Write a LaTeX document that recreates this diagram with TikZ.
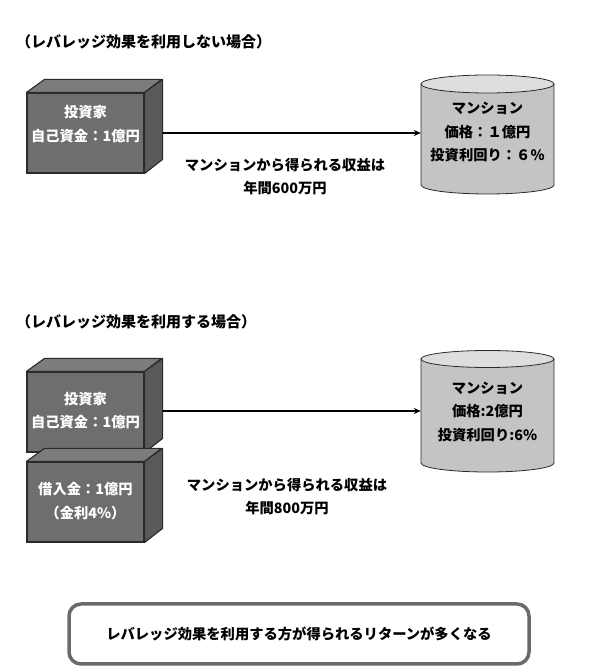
\documentclass[tikz,border=0pt]{standalone}
\usepackage{fontspec}
\usetikzlibrary{arrows.meta}
\setmainfont{Noto Sans CJK JP}
\begin{document}
\begin{tikzpicture}[x=1pt,y=1pt,
  txt/.style={font=\bfseries\fontsize{14.3}{23.5}\selectfont, align=center, inner sep=0pt},
  ttl/.style={font=\bfseries\fontsize{15}{18}\selectfont, inner sep=0pt, anchor=west},
  wtxt/.style={txt, text=white},
  front/.style={fill=frontgray, draw=edgegray, line width=1.1pt, minimum width=117pt, minimum height=80pt, inner sep=0pt},
  face/.style={draw=edgegray, line width=1.1pt, line join=round},
  cylbody/.style={fill=cylgray, draw=edgegray, line width=0.8pt},
  cyltop/.style={fill=cyltopgray, draw=edgegray, line width=0.8pt},
  arr/.style={-{Stealth[length=7pt,width=6pt]}, line width=1.3pt},
  endbox/.style={draw=boxgray, line width=3.5pt, rounded corners=12pt, minimum width=460pt, minimum height=60pt, fill=white}
]
\definecolor{frontgray}{HTML}{6E6E6E}
\definecolor{topgray}{HTML}{7C7C7C}
\definecolor{sidegray}{HTML}{5A5A5A}
\definecolor{edgegray}{HTML}{2A2A2A}
\definecolor{cylgray}{HTML}{C4C4C4}
\definecolor{cyltopgray}{HTML}{DEDEDE}
\definecolor{boxgray}{HTML}{6A6A6A}
\useasboundingbox (0,0) rectangle (600,672);

% ---------- titles
\node[ttl] (t1) at (16,630) {（レバレッジ効果を利用しない場合）};
\node[ttl] (t2) at (16,350) {（レバレッジ効果を利用する場合）};

% ---------- cube 1
\node[front] (box1) at (85.5,539) {};
\fill[topgray, face] (box1.north west) -- ++(18,13) -- ++(117,0) -- (box1.north east) -- cycle;
\fill[sidegray, face] (box1.north east) -- ++(18,13) -- ++(0,-80) -- (box1.south east) -- cycle;
\node[wtxt] (box1t) at (85.5,548) {投資家\\自己資金：1億円};
\coordinate (b1r) at ([xshift=18pt]box1.east);

% ---------- cylinder 1
\path[cylbody] (421,588) -- (421,487) arc[start angle=180, end angle=360, x radius=66.5, y radius=9] -- (554,588) -- cycle;
\path[cyltop] (487.5,588) ellipse[x radius=66.5, y radius=9];
\node[txt, minimum width=133pt] (cyl1) at (487.5,540) {マンション\\価格：１億円\\投資利回り：６\%};

\draw[arr] (b1r) -- (b1r -| cyl1.west);
\node[txt] (m1) at (285,495.5) {マンションから得られる収益は\\年間600万円};

% ---------- cube 2a
\node[front] (box2) at (85.5,260) {};
\fill[topgray, face] (box2.north west) -- ++(18,13) -- ++(117,0) -- (box2.north east) -- cycle;
\fill[sidegray, face] (box2.north east) -- ++(18,13) -- ++(0,-80) -- (box2.south east) -- cycle;
\node[wtxt] (box2t) at (85.5,261.5) {投資家\\自己資金：1億円};
\coordinate (b2r) at ([xshift=18pt]box2.east);

% ---------- cube 2b
\node[front] (box3) at (85.5,170) {};
\fill[topgray, face] (box3.north west) -- ++(18,13) -- ++(117,0) -- (box3.north east) -- cycle;
\fill[sidegray, face] (box3.north east) -- ++(18,13) -- ++(0,-80) -- (box3.south east) -- cycle;
\node[wtxt] (box3t) at (85.5,171) {借入金：1億円\\（金利4\%）};

% ---------- cylinder 2
\path[cylbody] (421,313) -- (421,209) arc[start angle=180, end angle=360, x radius=66.5, y radius=9] -- (554,313) -- cycle;
\path[cyltop] (487.5,313) ellipse[x radius=66.5, y radius=8.5];
\node[txt, minimum width=133pt] (cyl2) at (487.5,260.5) {マンション\\価格:2億円\\投資利回り:6\%};

\draw[arr] (b2r |- 0,261) -- (cyl2.west |- 0,261);
\node[txt] (m2) at (287,175.5) {マンションから得られる収益は\\年間800万円};

% ---------- conclusion
\node[endbox, txt] (concl) at (299,38) {レバレッジ効果を利用する方が得られるリターンが多くなる};
\end{tikzpicture}
\end{document}
